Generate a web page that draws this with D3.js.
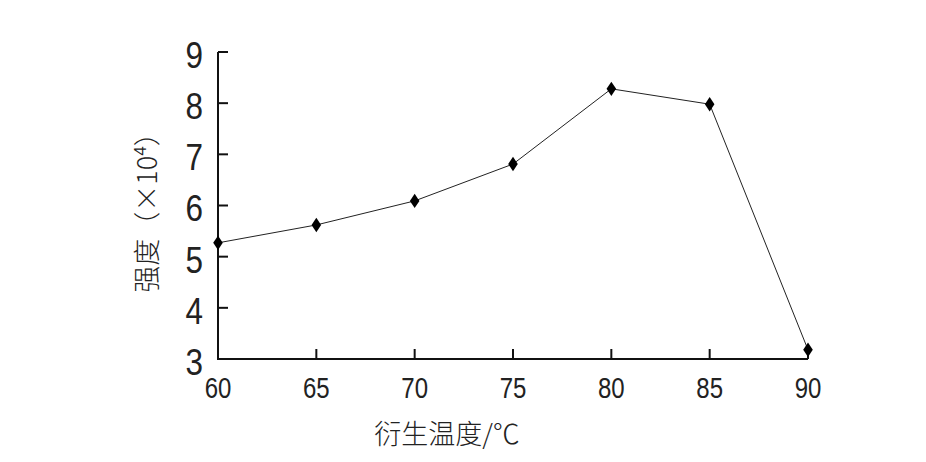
<!DOCTYPE html>
<html><head><meta charset="utf-8">
<script src="https://cdn.jsdelivr.net/npm/d3@7"></script>
<style>body{margin:0;background:#fff}</style>
</head><body>
<svg id="c" width="926" height="462"></svg>
<script>
const temps = [60, 65, 70, 75, 80, 85, 90];
const strength = [5.27, 5.62, 6.09, 6.81, 8.28, 7.98, 3.18];
const xTicks = [60, 65, 70, 75, 80, 85, 90];
const yTicks = [3, 4, 5, 6, 7, 8, 9];

const svg = d3.select("#c");
const x = d3.scaleLinear().domain([60, 90]).range([218, 808]);
const y = d3.scaleLinear().domain([3, 9]).range([359, 52]);
const num = "'Liberation Sans', Arial, sans-serif";
const cjk = "'Noto Sans CJK SC', sans-serif";

// axes lines
svg.append("line").attr("x1", x(60)).attr("x2", x(60)).attr("y1", y(9)).attr("y2", y(3))
  .attr("stroke", "#111").attr("stroke-width", 2);
svg.append("line").attr("x1", x(60) - 1).attr("x2", x(90)).attr("y1", y(3)).attr("y2", y(3))
  .attr("stroke", "#111").attr("stroke-width", 2);

// y ticks (inward)
svg.selectAll(".yt").data(yTicks.filter(d => d > 3)).enter().append("line")
  .attr("x1", x(60)).attr("x2", x(60) + 10).attr("y1", d => y(d)).attr("y2", d => y(d))
  .attr("stroke", "#111").attr("stroke-width", 2);
// x ticks (inward)
svg.selectAll(".xt").data(xTicks.filter(d => d > 60)).enter().append("line")
  .attr("x1", d => x(d)).attr("x2", d => x(d)).attr("y1", y(3)).attr("y2", y(3) - 10)
  .attr("stroke", "#111").attr("stroke-width", 2);

// y labels
svg.selectAll(".yl").data(yTicks).enter().append("text")
  .attr("transform", d => `translate(203,${y(d) + 3}) scale(0.85,1)`)
  .attr("text-anchor", "end").attr("dominant-baseline", "central")
  .attr("font-family", num).attr("font-size", 37).attr("fill", "#222")
  .text(d => d);
// x labels
svg.selectAll(".xl").data(xTicks).enter().append("text")
  .attr("transform", d => `translate(${x(d)},398) scale(0.8,1)`)
  .attr("text-anchor", "middle")
  .attr("font-family", num).attr("font-size", 30).attr("fill", "#222")
  .text(d => d);

// line
const line = d3.line().x((d, i) => x(temps[i])).y(d => y(d));
svg.append("path").datum(strength).attr("d", line)
  .attr("fill", "none").attr("stroke", "#222").attr("stroke-width", 1);
// markers
svg.selectAll(".m").data(strength).enter().append("path")
  .attr("d", d3.symbol().type(d3.symbolDiamond).size(60))
  .attr("transform", (d, i) => `translate(${x(temps[i])},${y(d)}) scale(1.15,1)`)
  .attr("fill", "#000");

// x title
svg.append("text").attr("x", 447).attr("y", 444).attr("text-anchor", "middle")
  .attr("font-family", cjk).attr("font-size", 27).attr("font-weight", 300).attr("fill", "#222")
  .text("衍生温度/℃");

// y title
const yt = svg.append("text").attr("transform", "translate(157,206) rotate(-90)")
  .attr("text-anchor", "middle")
  .attr("font-family", cjk).attr("font-size", 27).attr("font-weight", 300).attr("fill", "#222");
yt.append("tspan").text("强度（×10");
yt.append("tspan").attr("font-size", 17).attr("dy", -11).attr("font-family", num).text("4");
yt.append("tspan").attr("dy", 11).text("）");
</script>
</body></html>
